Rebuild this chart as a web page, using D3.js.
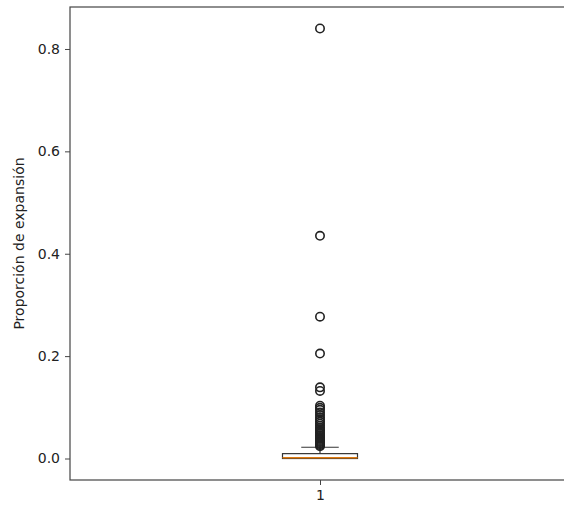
<!DOCTYPE html>
<html>
<head>
<meta charset="utf-8">
<script src="https://cdn.jsdelivr.net/npm/d3@7"></script>
<style>
  body { margin: 0; background: #fff; }
  text { font-family: "DejaVu Sans", sans-serif; fill: #222; }
</style>
</head>
<body>
<svg id="chart" width="564" height="506"></svg>
<script>
/************
** data
*************/
var categories = ["1"];
var boxStats = [{ q1: 0.0, median: 0.0015, q3: 0.0095, low: 0.0, high: 0.022 }];
var outliers = [
    0.024, 0.026, 0.028, 0.030, 0.032, 0.034, 0.036, 0.038, 0.040, 0.042,
    0.045, 0.048, 0.051, 0.054, 0.057, 0.060, 0.064, 0.068, 0.072, 0.076,
    0.080, 0.085, 0.090, 0.095, 0.099, 0.103, 0.132, 0.139,
    0.205, 0.277, 0.435, 0.840
];
var yTicks = [0.0, 0.2, 0.4, 0.6, 0.8];
var yLabel = "Proporción de expansión";

/************
** layout
*************/
var plot = { left: 70, right: 570, top: 7, bottom: 480 };
var svg = d3.select("#chart");

var x = d3.scalePoint().domain(categories).range([plot.left, plot.right]).padding(0.5);
var xStep = d3.scaleLinear().domain([0.5, 1.5]).range([plot.left, plot.right]);
var y = d3.scaleLinear().domain([-0.042, 0.882]).range([plot.bottom, plot.top]);

var boxW = xStep(0.15) - xStep(0);
var axisColor = "#444";

// axes
var yAxis = svg.append("g")
    .attr("transform", "translate(" + plot.left + ",0)")
    .call(d3.axisLeft(y).tickValues(yTicks).tickFormat(d3.format(".1f")).tickSize(5).tickPadding(5));
var xAxis = svg.append("g")
    .attr("transform", "translate(0," + plot.bottom + ")")
    .call(d3.axisBottom(x).tickSize(5).tickPadding(5));
[yAxis, xAxis].forEach(function(a){
    a.select(".domain").remove();
    a.selectAll("line").attr("stroke", axisColor).attr("stroke-width", 1);
    a.selectAll("text").style("font-size", "14px").attr("fill", "#333");
});

// frame
svg.append("rect")
    .attr("x", plot.left).attr("y", plot.top)
    .attr("width", plot.right - plot.left).attr("height", plot.bottom - plot.top)
    .attr("fill", "none").attr("stroke", axisColor).attr("stroke-width", 1.2);

// y label
svg.append("text")
    .attr("transform", "translate(24," + ((plot.top + plot.bottom) / 2) + ") rotate(-90)")
    .attr("text-anchor", "middle")
    .style("font-size", "14px")
    .attr("fill", "#333")
    .text(yLabel);

/************
** box
*************/
var g = svg.append("g");
boxStats.forEach(function(s, i){
    var cx = x(categories[i]);
    // whiskers
    g.append("line").attr("x1", cx).attr("x2", cx).attr("y1", y(s.q3)).attr("y2", y(s.high))
        .attr("stroke", "#333").attr("stroke-width", 1.2);
    g.append("line").attr("x1", cx - boxW / 4).attr("x2", cx + boxW / 4).attr("y1", y(s.high)).attr("y2", y(s.high))
        .attr("stroke", "#333").attr("stroke-width", 1.2);
    g.append("line").attr("x1", cx - boxW / 4).attr("x2", cx + boxW / 4).attr("y1", y(s.low)).attr("y2", y(s.low))
        .attr("stroke", "#333").attr("stroke-width", 1.2);
    // box
    g.append("rect").attr("x", cx - boxW / 2).attr("width", boxW)
        .attr("y", y(s.q3)).attr("height", y(s.q1) - y(s.q3))
        .attr("fill", "none").attr("stroke", "#333").attr("stroke-width", 1.2);
    // median
    g.append("line").attr("x1", cx - boxW / 2).attr("x2", cx + boxW / 2).attr("y1", y(s.median)).attr("y2", y(s.median))
        .attr("stroke", "#e07b10").attr("stroke-width", 1.6);
    // fliers
    g.selectAll(".flier").data(outliers).enter().append("circle")
        .attr("class", "flier")
        .attr("cx", cx).attr("cy", function(d){ return y(d); })
        .attr("r", 4.2)
        .attr("fill", "none").attr("stroke", "#222").attr("stroke-width", 1.6);
});
</script>
</body>
</html>
